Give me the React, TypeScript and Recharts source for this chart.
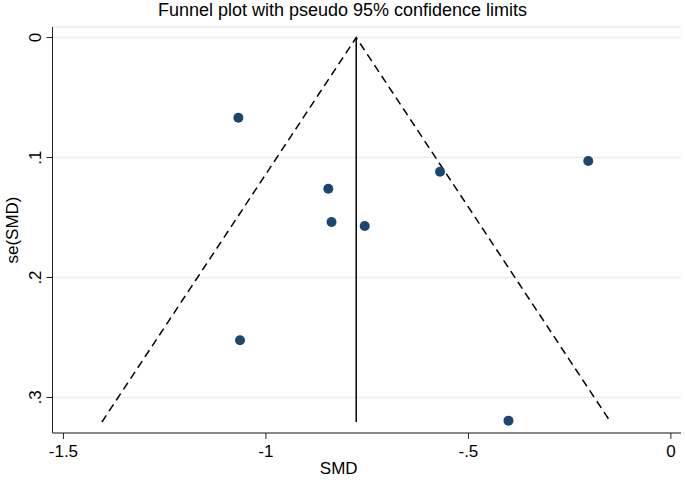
import React from "react";
import { ScatterChart, Scatter, XAxis, YAxis, CartesianGrid } from "recharts";

const studySMD = [-1.068, -0.204, -0.57, -0.846, -0.838, -0.756, -1.064, -0.401];
const studySE = [0.0668, 0.1029, 0.1118, 0.126, 0.1538, 0.157, 0.2523, 0.3193];
const pooledSMD = -0.777;
const maxSE = 0.3204;
const xTicks = [-1.5, -1, -0.5, 0];
const xTickLabels = ["-1.5", "-1", "-.5", "0"];
const yTicks = [0, 0.1, 0.2, 0.3];
const yTickLabels = ["0", ".1", ".2", ".3"];

const points = studySMD.map((x, i) => ({ x, y: studySE[i] }));
const funnel = [
  { x: pooledSMD - 1.96 * maxSE, y: maxSE },
  { x: pooledSMD, y: 0 },
  { x: pooledSMD + 1.96 * maxSE, y: maxSE },
];
const pooledLine = [
  { x: pooledSMD, y: 0 },
  { x: pooledSMD, y: maxSE },
];

const FONT = "Arial, 'Liberation Sans', sans-serif";

const YTick = (props: any) => {
  const { x, y, payload } = props;
  const idx = yTicks.indexOf(payload.value);
  const lx = x - 3;
  return (
    <text
      x={lx}
      y={y}
      transform={`rotate(-90 ${lx} ${y})`}
      textAnchor="middle"
      fontSize={17}
      fontFamily={FONT}
      fill="#000"
    >
      {idx >= 0 ? yTickLabels[idx] : payload.value}
    </text>
  );
};

const XTick = (props: any) => {
  const { x, y, payload } = props;
  const idx = xTicks.indexOf(payload.value);
  return (
    <text x={x} y={y} dy={16} textAnchor="middle" fontSize={17} fontFamily={FONT} fill="#000">
      {idx >= 0 ? xTickLabels[idx] : payload.value}
    </text>
  );
};

const YLabel = (props: any) => {
  const vb = props.viewBox || {};
  const cx = 18;
  const cy = (vb.y ?? 27) + (vb.height ?? 406) / 2;
  return (
    <text x={cx} y={cy} transform={`rotate(-90 ${cx} ${cy})`} textAnchor="middle" fontSize={17} fontFamily={FONT} fill="#000">
      se(SMD)
    </text>
  );
};

const XLabel = (props: any) => {
  const vb = props.viewBox || {};
  const cx = (vb.x ?? 52.5) + (vb.width ?? 628.5) / 2 - 28;
  return (
    <text x={cx} y={474} textAnchor="middle" fontSize={17} fontFamily={FONT} fill="#000">
      SMD
    </text>
  );
};

const noShape = () => <g />;

export default function App() {
  return (
    <div style={{ position: "absolute", left: 0, top: 0, width: 685, height: 480, background: "#fff" }}>
      <div
        style={{
          position: "absolute",
          left: 0,
          width: 685,
          top: 0,
          textAlign: "center",
          fontFamily: FONT,
          fontSize: 18,
          color: "#000",
        }}
      >
        Funnel plot with pseudo 95% confidence limits
      </div>
      <ScatterChart width={685} height={480} margin={{ top: 27, right: 4, bottom: 17, left: 12.5 }}>
        <CartesianGrid vertical={false} stroke="#e6eef0" strokeWidth={1.5} />
        <XAxis
          type="number"
          dataKey="x"
          domain={[-1.527, 0.025]}
          ticks={xTicks}
          tick={<XTick />}
          height={30}
          stroke="#222"
          tickSize={6}
          allowDataOverflow
          label={<XLabel />}
        />
        <YAxis
          type="number"
          dataKey="y"
          domain={[-0.0088, 0.3296]}
          reversed
          ticks={yTicks}
          tick={<YTick />}
          width={40}
          stroke="#222"
          tickSize={6}
          allowDataOverflow
          label={<YLabel />}
        />
        <Scatter
          data={funnel}
          line={{ stroke: "#000", strokeWidth: 1.5, strokeDasharray: "8 5" }}
          shape={noShape}
          isAnimationActive={false}
        />
        <Scatter
          data={pooledLine}
          line={{ stroke: "#000", strokeWidth: 1.5 }}
          shape={noShape}
          isAnimationActive={false}
        />
        <Scatter data={points} fill="#1a476f" isAnimationActive={false}
          shape={(p: any) => <circle cx={p.cx} cy={p.cy} r={5} fill="#1a476f" />} />
      </ScatterChart>
    </div>
  );
}
